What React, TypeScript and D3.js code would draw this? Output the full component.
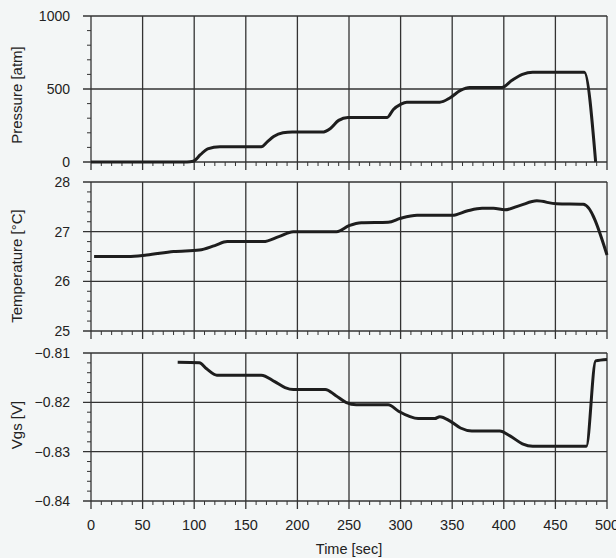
import React from "react";
import * as d3 from "d3";

const W = 616;
const H = 558;
const BG = "#f3f6f6";

const xTicks = [0, 50, 100, 150, 200, 250, 300, 350, 400, 450, 500];

const pressureTicks = [0, 500, 1000];
const tempTicks = [25, 26, 27, 28];
const vgsTicks = [-0.84, -0.83, -0.82, -0.81];
const vgsTickLabels = ["\u22120.84", "\u22120.83", "\u22120.82", "\u22120.81"];

const pressureTime = [0, 93, 99, 106, 113, 125, 165, 171, 177, 186, 195, 224, 232, 240, 249, 287, 293, 300, 306, 338, 348, 358, 367, 398, 408, 418, 428, 478, 489];
const pressureVal = [0, 0, 5, 50, 90, 105, 105, 140, 175, 200, 205, 205, 230, 285, 305, 305, 360, 395, 410, 410, 440, 490, 510, 510, 560, 600, 615, 615, 0];

const tempTime = [3, 36, 54, 80, 105, 120, 132, 167, 182, 196, 238, 250, 262, 288, 300, 316, 350, 365, 379, 390, 401, 416, 432, 451, 477, 500];
const tempVal = [26.5, 26.5, 26.53, 26.6, 26.63, 26.72, 26.8, 26.8, 26.9, 27.0, 27.0, 27.12, 27.18, 27.19, 27.27, 27.33, 27.33, 27.42, 27.47, 27.47, 27.44, 27.53, 27.62, 27.56, 27.55, 26.53];

const vgsTime = [84, 105, 112, 122, 165, 178, 188, 196, 227, 237, 247, 257, 288, 298, 308, 317, 333, 338, 348, 358, 369, 396, 406, 418, 428, 480, 489, 500];
const vgsVal = [-0.8119, -0.812, -0.8132, -0.8145, -0.8145, -0.8158, -0.817, -0.8174, -0.8174, -0.8186, -0.82, -0.8205, -0.8205, -0.8218, -0.8228, -0.8233, -0.8233, -0.8229, -0.8238, -0.8252, -0.8258, -0.8258, -0.8268, -0.8284, -0.8289, -0.8289, -0.8116, -0.8113];

const X0 = 91;
const X1 = 607;
const x = d3.scaleLinear().domain([0, 500]).range([X0, X1]);

const FONT = "'Liberation Sans', Arial, sans-serif";
const GRID = "#333";

type PanelProps = {
  domain: [number, number];
  top: number;
  bottom: number;
  ticks: number[];
  labels: string[];
  minorStep: number;
  title: string;
  titleY: number;
  t: number[];
  v: number[];
};

function Panel({ domain, top, bottom, ticks, labels, minorStep, title, titleY, t, v }: PanelProps) {
  const y = d3.scaleLinear().domain(domain).range([bottom, top]);
  const minorY: number[] = [];
  const n = Math.round((domain[1] - domain[0]) / minorStep);
  for (let i = 1; i < n; i++) {
    const val = domain[0] + i * minorStep;
    if (!ticks.some((tk) => Math.abs(tk - val) < minorStep / 10)) minorY.push(val);
  }
  const minorX: number[] = [];
  for (let s = 10; s < 500; s += 10) if (s % 50 !== 0) minorX.push(s);
  const pts: [number, number][] = t.map((tt, i) => [tt, v[i]]);
  const line = d3
    .line<[number, number]>()
    .x((d) => x(d[0]))
    .y((d) => y(d[1]))
    .curve(d3.curveMonotoneX);
  return (
    <g>
      {xTicks.map((tk) => (
        <line key={"vx" + tk} x1={x(tk)} x2={x(tk)} y1={top} y2={bottom + 8} stroke={GRID} strokeWidth={1.3} />
      ))}
      {ticks.map((tk) => (
        <line key={"hy" + tk} x1={X0 - 8} x2={X1} y1={y(tk)} y2={y(tk)} stroke={GRID} strokeWidth={1.3} />
      ))}
      {minorX.map((s) => (
        <line key={"mx" + s} x1={x(s)} x2={x(s)} y1={bottom} y2={bottom + 4} stroke={GRID} strokeWidth={1} />
      ))}
      {minorY.map((s) => (
        <line key={"my" + s} x1={X0 - 4} x2={X0} y1={y(s)} y2={y(s)} stroke={GRID} strokeWidth={1} />
      ))}
      {ticks.map((tk, i) => (
        <text key={"yl" + tk} x={70} y={y(tk) + 5} textAnchor="end" fontSize={14} fontFamily={FONT} fill="#222">
          {labels[i]}
        </text>
      ))}
      <text
        transform={`translate(22,${titleY}) rotate(-90)`}
        textAnchor="middle"
        fontSize={15}
        fontFamily={FONT}
        fill="#222"
      >
        {title}
      </text>
      <path d={line(pts) || ""} fill="none" stroke="#1e1e1e" strokeWidth={3} strokeLinejoin="round" />
    </g>
  );
}

export default function App() {
  return (
    <div style={{ position: "fixed", left: 0, top: 0, width: W, height: H, background: BG, overflow: "hidden" }}>
      <svg width={W} height={H} style={{ display: "block" }}>
        <rect x={0} y={0} width={W} height={H} fill={BG} />
        <Panel
          domain={[0, 1000]}
          top={16}
          bottom={162}
          ticks={pressureTicks}
          labels={pressureTicks.map(String)}
          minorStep={100}
          title="Pressure [atm]"
          titleY={95}
          t={pressureTime}
          v={pressureVal}
        />
        <Panel
          domain={[25, 28]}
          top={182}
          bottom={331}
          ticks={tempTicks}
          labels={tempTicks.map(String)}
          minorStep={0.2}
          title="Temperature [°C]"
          titleY={266}
          t={tempTime}
          v={tempVal}
        />
        <Panel
          domain={[-0.84, -0.81]}
          top={353}
          bottom={501}
          ticks={vgsTicks}
          labels={vgsTickLabels}
          minorStep={0.002}
          title="Vgs [V]"
          titleY={425}
          t={vgsTime}
          v={vgsVal}
        />
        {xTicks.map((tk) => (
          <text key={"xl" + tk} x={x(tk)} y={530} textAnchor="middle" fontSize={14.5} fontFamily={FONT} fill="#222">
            {tk}
          </text>
        ))}
        <text x={349} y={554} textAnchor="middle" fontSize={14.5} fontFamily={FONT} fill="#222">
          Time [sec]
        </text>
      </svg>
    </div>
  );
}
